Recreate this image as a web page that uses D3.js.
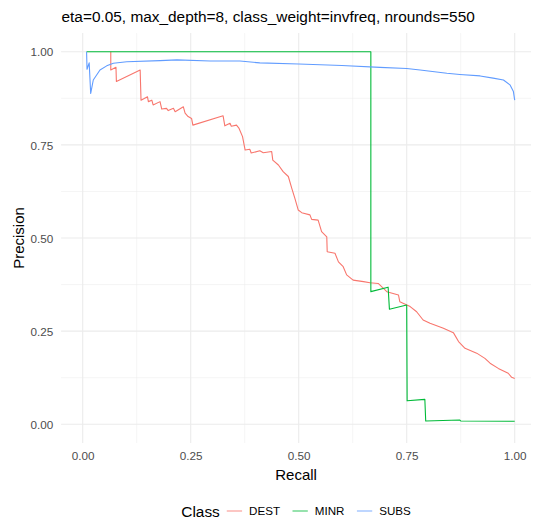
<!DOCTYPE html>
<html>
<head>
<meta charset="utf-8">
<script src="https://cdn.jsdelivr.net/npm/d3@7"></script>
<style>
  html, body { margin: 0; padding: 0; background: #fff; }
  svg { display: block; font-family: "Liberation Sans", Arial, sans-serif; }
</style>
</head>
<body>
<svg id="chart" width="533" height="519"></svg>
<script>
// ---- data ----
const classes = ["DEST", "MINR", "SUBS"];
const xTicks = [0, 0.25, 0.5, 0.75, 1];
const yTicks = [0, 0.25, 0.5, 0.75, 1];
const xTickLabels = ["0.00", "0.25", "0.50", "0.75", "1.00"];
const yTickLabels = ["0.00", "0.25", "0.50", "0.75", "1.00"];

const destRecall = [0.065,0.065,0.077,0.078,0.133,0.135,0.150,0.152,0.160,0.163,0.179,0.183,0.194,0.198,0.210,0.214,0.233,0.237,0.244,0.252,0.255,0.325,0.329,0.341,0.344,0.356,0.362,0.370,0.376,0.387,0.390,0.410,0.418,0.4375,0.440,0.453,0.464,0.476,0.484,0.491,0.499,0.507,0.526,0.530,0.545,0.553,0.565,0.566,0.584,0.592,0.603,0.611,0.626,0.650,0.665,0.684,0.704,0.731,0.734,0.758,0.773,0.788,0.804,0.835,0.858,0.870,0.885,0.912,0.931,0.943,0.962,0.985,0.993,1.0];
const destPrecision = [1.0,0.951,0.958,0.920,0.951,0.870,0.879,0.866,0.870,0.857,0.866,0.846,0.848,0.842,0.848,0.839,0.852,0.835,0.826,0.821,0.803,0.828,0.801,0.808,0.800,0.803,0.794,0.772,0.736,0.738,0.728,0.734,0.729,0.732,0.709,0.696,0.678,0.665,0.633,0.607,0.575,0.568,0.562,0.550,0.548,0.517,0.503,0.463,0.459,0.436,0.423,0.401,0.387,0.383,0.380,0.378,0.356,0.347,0.329,0.316,0.302,0.280,0.271,0.258,0.246,0.222,0.204,0.191,0.177,0.164,0.150,0.137,0.126,0.123];

const minrRecall = [0.009,0.667,0.667,0.707,0.710,0.750,0.751,0.792,0.794,0.873,0.875,1.0];
const minrPrecision = [1.0,1.0,0.356,0.368,0.309,0.320,0.063,0.067,0.009,0.0115,0.009,0.008];

const subsRecall = [0.009,0.010,0.015,0.0185,0.0245,0.040,0.0556,0.071,0.102,0.179,0.218,0.295,0.364,0.41,0.5,0.6,0.688,0.75,0.781,0.843,0.873,0.92,0.95,0.974,0.989,0.997,1.0];
const subsPrecision = [1.0,0.953,0.970,0.888,0.924,0.951,0.962,0.969,0.973,0.976,0.978,0.975,0.975,0.970,0.967,0.963,0.958,0.955,0.951,0.942,0.939,0.935,0.929,0.924,0.911,0.893,0.870];

const colors = ["#F8766D", "#00BA38", "#619CFF"];

// ---- build series ----
const series = [
  { name: classes[0], r: destRecall, p: destPrecision },
  { name: classes[1], r: minrRecall, p: minrPrecision },
  { name: classes[2], r: subsRecall, p: subsPrecision }
].map(s => ({ name: s.name, pts: s.r.map((v, i) => [v, s.p[i]]) }));

const svg = d3.select("#chart");
const x = d3.scaleLinear().domain([0, 1]).range([82.7, 514.7]);
const y = d3.scaleLinear().domain([0, 1]).range([424.3, 51.7]);
const color = d3.scaleOrdinal().domain(classes).range(colors);

const panelL = x(-0.05), panelR = 531, panelT = y(1.05), panelB = y(-0.05);

// grid
const g = svg.append("g");
const minor = [0.125, 0.375, 0.625, 0.875];
g.selectAll(".vmin").data(minor).enter().append("line")
  .attr("x1", d => x(d)).attr("x2", d => x(d)).attr("y1", panelT).attr("y2", panelB)
  .attr("stroke", "#EBEBEB").attr("stroke-width", 0.55);
g.selectAll(".hmin").data(minor).enter().append("line")
  .attr("y1", d => y(d)).attr("y2", d => y(d)).attr("x1", panelL).attr("x2", panelR)
  .attr("stroke", "#EBEBEB").attr("stroke-width", 0.55);
g.selectAll(".vmaj").data(xTicks).enter().append("line")
  .attr("x1", d => x(d)).attr("x2", d => x(d)).attr("y1", panelT).attr("y2", panelB)
  .attr("stroke", "#EBEBEB").attr("stroke-width", 1.1);
g.selectAll(".hmaj").data(yTicks).enter().append("line")
  .attr("y1", d => y(d)).attr("y2", d => y(d)).attr("x1", panelL).attr("x2", panelR)
  .attr("stroke", "#EBEBEB").attr("stroke-width", 1.1);

// axes (text only, ggplot minimal style)
const xAxis = d3.axisBottom(x).tickValues(xTicks).tickFormat((d, i) => xTickLabels[i]).tickSize(0).tickPadding(0);
const xa = svg.append("g").attr("transform", `translate(0,${panelB})`).call(xAxis);
xa.select(".domain").remove();
xa.selectAll("text").attr("dy", null).attr("y", 460 - panelB).attr("fill", "#4D4D4D")
  .attr("font-size", "11.7px").attr("font-family", "Liberation Sans, Arial, sans-serif");

const yAxis = d3.axisLeft(y).tickValues(yTicks).tickFormat((d, i) => yTickLabels[i]).tickSize(0).tickPadding(0);
const ya = svg.append("g").attr("transform", `translate(${panelL},0)`).call(yAxis);
ya.select(".domain").remove();
ya.selectAll("text").attr("x", 53.3 - panelL).attr("dy", "0.36em").attr("fill", "#4D4D4D")
  .attr("font-size", "11.7px").attr("font-family", "Liberation Sans, Arial, sans-serif");

// lines
const line = d3.line().x(d => x(d[0])).y(d => y(d[1]));
svg.append("g").selectAll("path").data(series).enter().append("path")
  .attr("d", d => line(d.pts))
  .attr("fill", "none")
  .attr("stroke", d => color(d.name))
  .attr("stroke-width", 1.1)
  .attr("stroke-linejoin", "round");

// titles
svg.append("text").attr("x", 61.5).attr("y", 22).attr("font-size", "15.4px").attr("fill", "#000")
  .text("eta=0.05, max_depth=8, class_weight=invfreq, nrounds=550");
svg.append("text").attr("x", (panelL + panelR) / 2).attr("y", 480).attr("text-anchor", "middle")
  .attr("font-size", "15px").attr("fill", "#000").text("Recall");
svg.append("text").attr("transform", `translate(23.5,${(panelT + panelB) / 2}) rotate(-90)`)
  .attr("text-anchor", "middle").attr("font-size", "15px").attr("fill", "#000").text("Precision");

// legend
const leg = svg.append("g");
const legCy = 511;
const titleT = leg.append("text").attr("y", legCy + 5.5).attr("font-size", "15.4px").attr("fill", "#000").text("Class");
let items = [];
const tw = titleT.node().getComputedTextLength();
let cur = tw + 6;
classes.forEach((c, i) => {
  const it = { c, keyX: cur };
  cur += 17.3 + 6;
  const t = leg.append("text").attr("x", cur).attr("y", legCy + 4.1).attr("font-size", "11.6px").attr("fill", "#000").text(c);
  it.text = t;
  const w = t.node().getComputedTextLength();
  cur += w + (i < classes.length - 1 ? 11.5 : 0);
  items.push(it);
});
const totalW = cur;
const legX = (panelL + panelR) / 2 - totalW / 2;
leg.attr("transform", `translate(${legX},0)`);
items.forEach(it => {
  leg.append("line").attr("x1", it.keyX + 1).attr("x2", it.keyX + 16.3)
    .attr("y1", legCy).attr("y2", legCy).attr("stroke", color(it.c)).attr("stroke-width", 1.1)
    .attr("stroke-opacity", 0.75);
});
</script>
</body>
</html>
